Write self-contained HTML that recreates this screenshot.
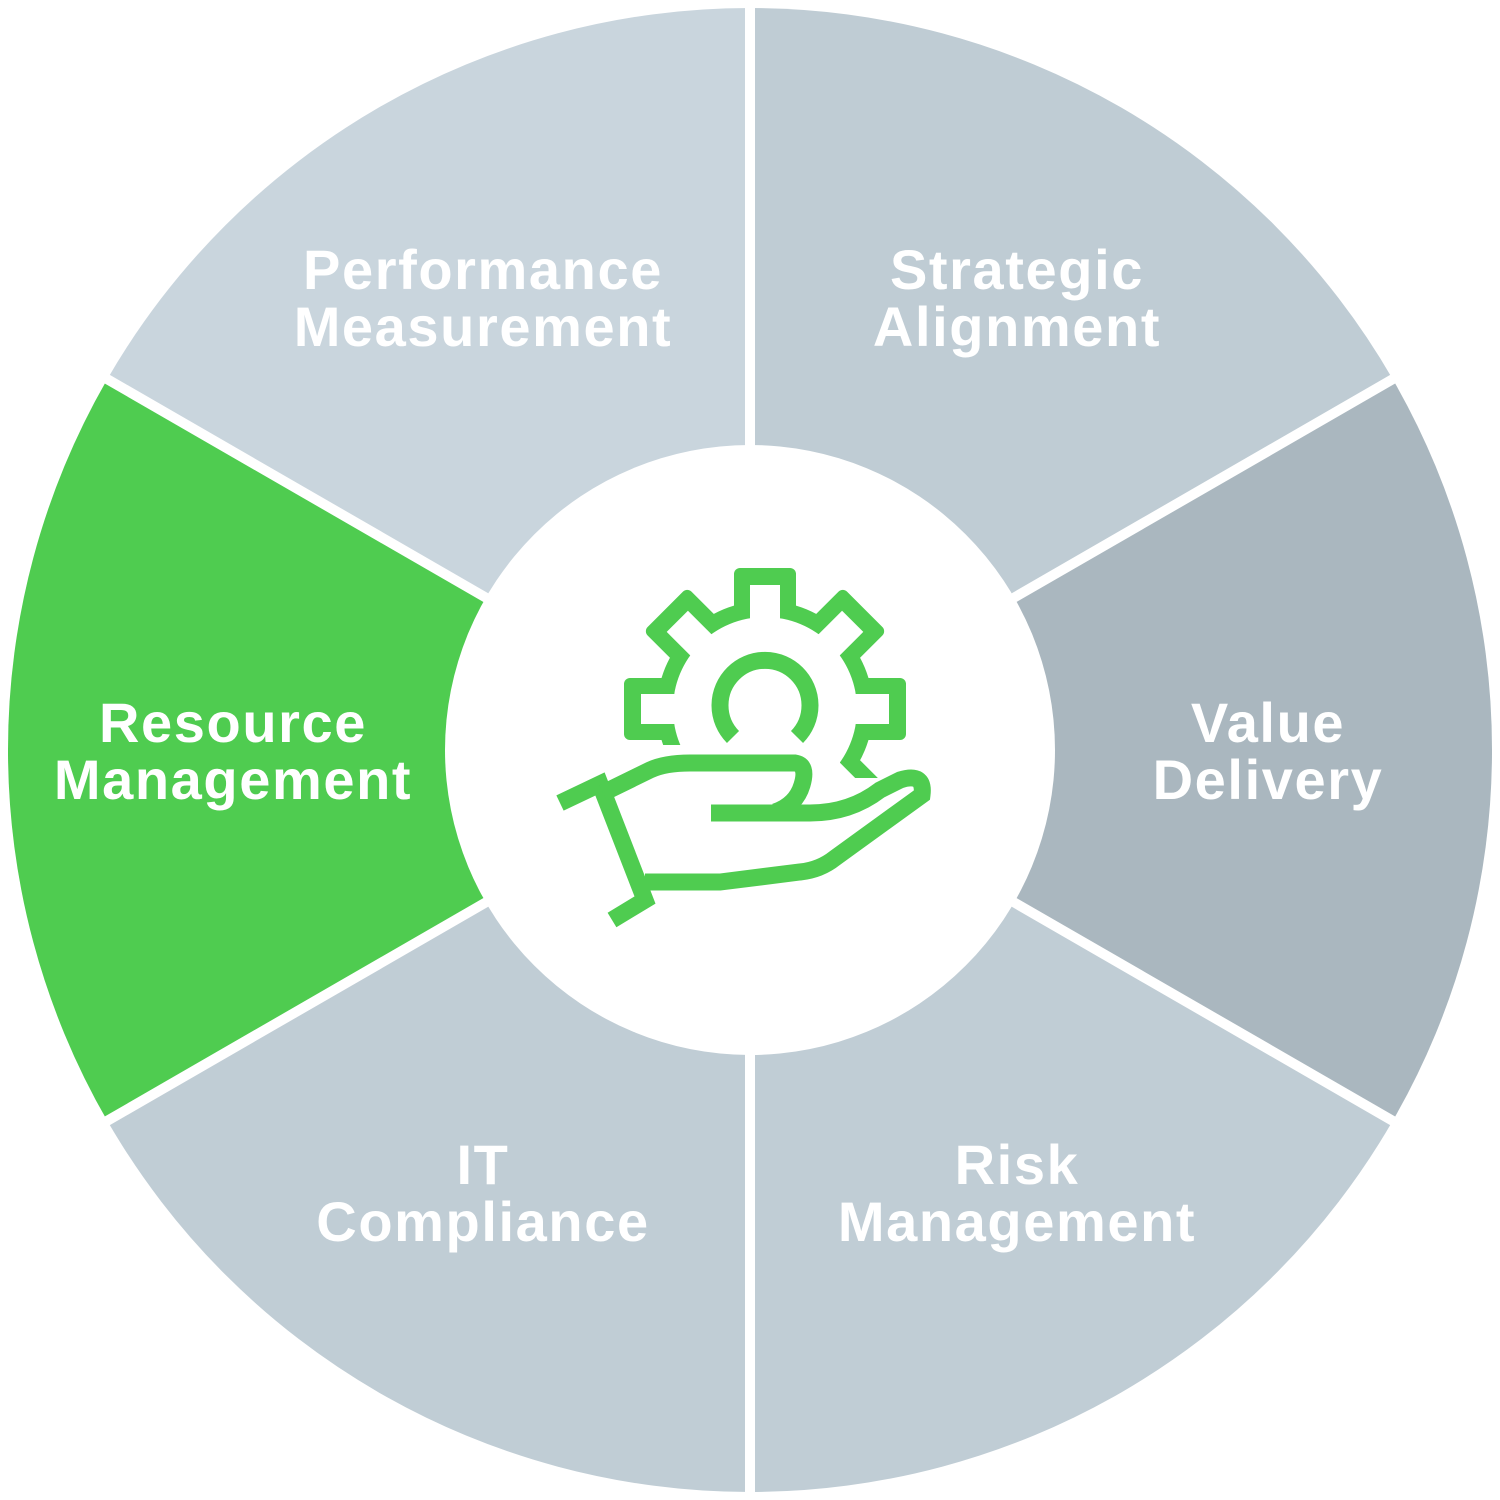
<!DOCTYPE html>
<html><head><meta charset="utf-8"><style>
html,body{margin:0;padding:0;background:#fff;}
svg{display:block;}
text{font-family:"Liberation Sans",sans-serif;font-weight:bold;font-size:56px;fill:#fff;text-anchor:middle;letter-spacing:1.6px;}
</style></head><body>
<svg width="1500" height="1500" viewBox="0 0 1500 1500" xmlns="http://www.w3.org/2000/svg">
<rect width="1500" height="1500" fill="#fff"/>
<g>
<path d="M750,750 L750,8 A742,742 0 0 1 1392.6,379 Z" fill="#bfccd4"/>
<path d="M750,750 L1392.6,379 A742,742 0 0 1 1392.6,1121 Z" fill="#aab7bf"/>
<path d="M750,750 L1392.6,1121 A742,742 0 0 1 750,1492 Z" fill="#c0cdd5"/>
<path d="M750,750 L750,1492 A742,742 0 0 1 107.4,1121 Z" fill="#c0cdd5"/>
<path d="M750,750 L107.4,1121 A742,742 0 0 1 107.4,379 Z" fill="#4fcc50"/>
<path d="M750,750 L107.4,379 A742,742 0 0 1 750,8 Z" fill="#c9d5dd"/>
</g>
<g stroke="#fff" stroke-width="10">
<line x1="750" y1="0" x2="750" y2="1500"/>
<line x1="100" y1="375" x2="1400" y2="1125"/>
<line x1="100" y1="1125" x2="1400" y2="375"/>
</g>
<circle cx="750" cy="750" r="305" fill="#fff"/>
<text x="483" y="289">Performance</text>
<text x="483" y="346">Measurement</text>
<text x="1017" y="289">Strategic</text>
<text x="1017" y="346">Alignment</text>
<text x="1268" y="742">Value</text>
<text x="1268" y="799">Delivery</text>
<text x="233" y="742">Resource</text>
<text x="233" y="799">Management</text>
<text x="483" y="1184">IT</text>
<text x="483" y="1241">Compliance</text>
<text x="1017" y="1184">Risk</text>
<text x="1017" y="1241">Management</text>

<g fill="#4fcc50">
<circle cx="765" cy="709" r="108"/>
<g id="t"><rect x="734" y="568" width="62" height="60" rx="6"/></g>
<use href="#t" transform="rotate(45 765 709)"/>
<use href="#t" transform="rotate(90 765 709)"/>
<use href="#t" transform="rotate(135 765 709)"/>
<use href="#t" transform="rotate(180 765 709)"/>
<use href="#t" transform="rotate(225 765 709)"/>
<use href="#t" transform="rotate(270 765 709)"/>
<use href="#t" transform="rotate(315 765 709)"/>
</g>
<g fill="#fff">
<circle cx="765" cy="709" r="92"/>
<g id="w"><rect x="750" y="585" width="30" height="50"/></g>
<use href="#w" transform="rotate(45 765 709)"/>
<use href="#w" transform="rotate(90 765 709)"/>
<use href="#w" transform="rotate(135 765 709)"/>
<use href="#w" transform="rotate(180 765 709)"/>
<use href="#w" transform="rotate(225 765 709)"/>
<use href="#w" transform="rotate(270 765 709)"/>
<use href="#w" transform="rotate(315 765 709)"/>
<path d="M610,745 L690,745 L690,760 L840,760 L840,778 L920,778 L920,860 L610,860 Z"/>
</g>
<g fill="none" stroke="#4fcc50" stroke-width="17">
<path d="M733,737 A45,45 0 1 1 797,737"/>
<path d="M560,803 L600,784 L645,900 L612,920"/>
<path d="M603,793 L650,770 Q665,763 690,763 L795,763 Q808,765 802,785 Q796,805 775,812"/>
<path d="M711,813 L810,813 Q850,813 880,790 L900,780 Q925,772 922,795 L835,858 Q820,870 800,872 L720,882 L645,882"/>
</g>
</svg>
</body></html>
